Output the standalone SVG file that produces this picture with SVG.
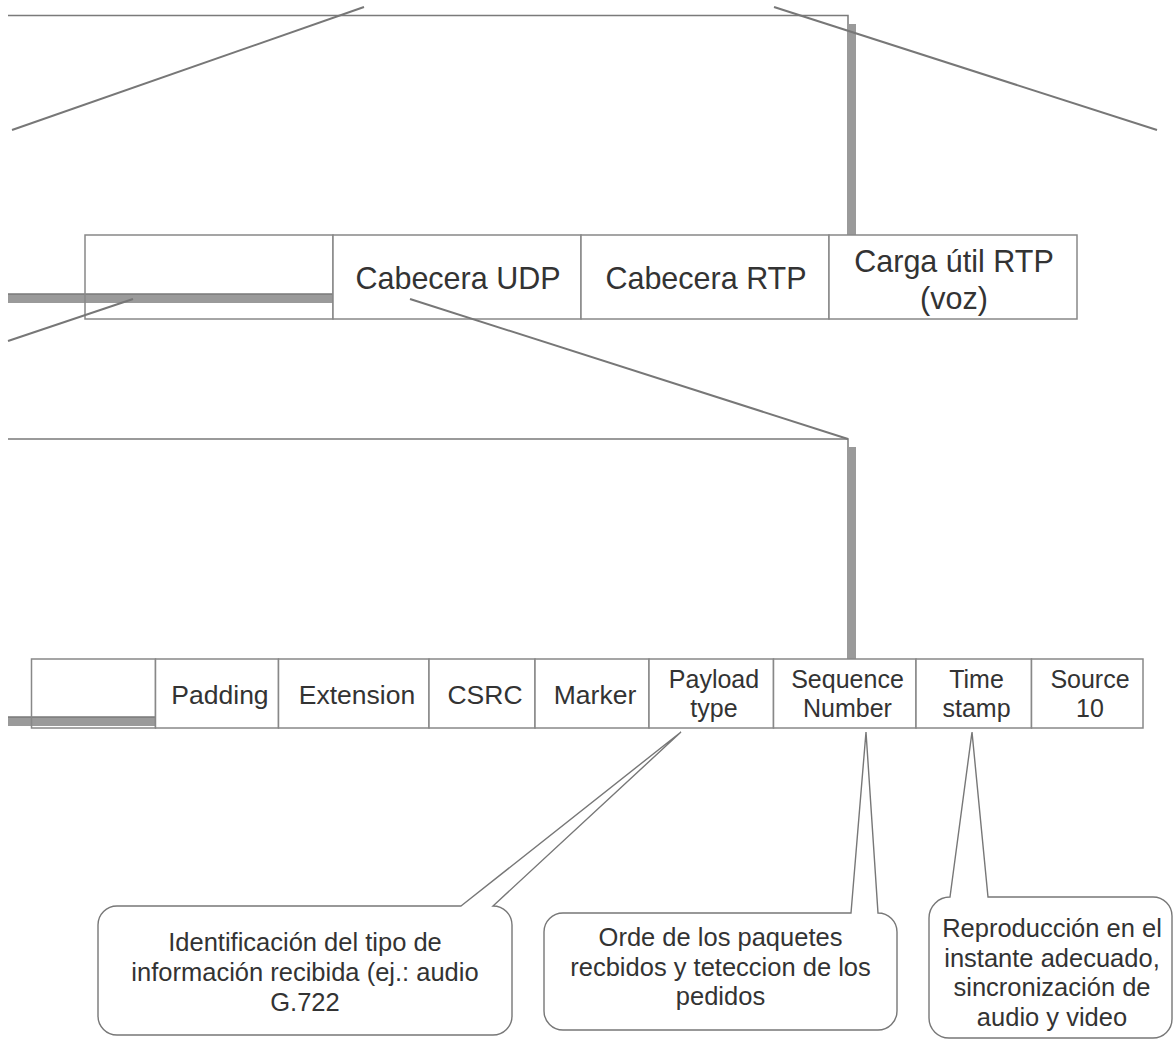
<svg xmlns="http://www.w3.org/2000/svg" width="1174" height="1040" viewBox="0 0 1174 1040">
<style>
.bg{fill:#fff}
.shadow{fill:#9a9a9a}
.frame{fill:none;stroke:#7a7a7a;stroke-width:1.5}
.cell{fill:#fff;stroke:#888;stroke-width:1.5}
.cell0{fill:none;stroke:#888;stroke-width:1.5}
.t{font-family:"Liberation Sans",Arial,sans-serif;fill:#333;text-anchor:middle;dominant-baseline:central}
.lg{font-size:30.5px}
.fd{font-size:26.5px}
.f2{font-size:25px}
.md{font-size:25.5px}
.ln{fill:none;stroke:#777;stroke-width:2}
.bub{fill:#fff;stroke:#777;stroke-width:1.4}
</style>
<rect class="bg" width="1174" height="1040"/>

<g id="frame-top">
  <rect class="shadow" x="849" y="24" width="7" height="279"/>
  <rect class="shadow" x="8" y="294" width="841" height="9"/>
  <path class="frame" d="M8,15.5 H848 V294 H8"/>
</g>

<g id="frame-mid">
  <rect class="shadow" x="849" y="447" width="7" height="279"/>
  <rect class="shadow" x="8" y="717" width="841" height="9"/>
  <path class="frame" d="M8,439 H848 V717 H8"/>
</g>

<g id="packet">
  <g id="pk-empty"><rect class="cell0" x="85" y="235" width="248" height="84"/></g>
  <g id="pk-udp"><rect class="cell" x="333" y="235" width="248" height="84"/><text class="t lg" x="458" y="278">Cabecera UDP</text></g>
  <g id="pk-rtp"><rect class="cell" x="581" y="235" width="248" height="84"/><text class="t lg" x="706" y="278">Cabecera RTP</text></g>
  <g id="pk-payload"><rect class="cell" x="829" y="235" width="248" height="84"/><text class="t lg" x="954" y="261">Carga útil RTP</text><text class="t lg" x="954" y="298">(voz)</text></g>
</g>

<g id="fields">
  <g id="f-empty"><rect class="cell0" x="31.5" y="659" width="124" height="69"/></g>
  <g id="f-padding"><rect class="cell" x="155.5" y="659" width="123" height="69"/><text class="t fd" x="220" y="695">Padding</text></g>
  <g id="f-extension"><rect class="cell" x="278.5" y="659" width="150.5" height="69"/><text class="t fd" x="357" y="695">Extension</text></g>
  <g id="f-csrc"><rect class="cell" x="429" y="659" width="106" height="69"/><text class="t fd" x="485" y="695">CSRC</text></g>
  <g id="f-marker"><rect class="cell" x="535" y="659" width="114" height="69"/><text class="t fd" x="595" y="695">Marker</text></g>
  <g id="f-payload"><rect class="cell" x="649" y="659" width="124.5" height="69"/><text class="t f2" x="714" y="679">Payload</text><text class="t f2" x="714" y="708">type</text></g>
  <g id="f-seq"><rect class="cell" x="773.5" y="659" width="142.5" height="69"/><text class="t f2" x="847.5" y="679">Sequence</text><text class="t f2" x="847.5" y="708">Number</text></g>
  <g id="f-time"><rect class="cell" x="916" y="659" width="115.5" height="69"/><text class="t f2" x="976.5" y="679">Time</text><text class="t f2" x="976.5" y="708">stamp</text></g>
  <g id="f-source"><rect class="cell" x="1031.5" y="659" width="111.5" height="69"/><text class="t f2" x="1090" y="679">Source</text><text class="t f2" x="1090" y="708">10</text></g>
</g>

<g id="connectors">
  <line class="ln" x1="364" y1="7" x2="12" y2="130"/>
  <line class="ln" x1="774" y1="7" x2="1157" y2="130"/>
  <line class="ln" x1="133" y1="299" x2="8" y2="341"/>
  <line class="ln" x1="410" y1="299" x2="848" y2="439"/>
</g>

<g id="callout-payload">
  <path class="bub" d="M461,906 L681,732 L493,906 A19,19 0 0 1 512,925 V1016 A19,19 0 0 1 493,1035 H117 A19,19 0 0 1 98,1016 V925 A19,19 0 0 1 117,906 Z"/>
  <text class="t md" x="305" y="942">Identificación del tipo de</text>
  <text class="t md" x="305" y="972">información recibida (ej.: audio</text>
  <text class="t md" x="305" y="1002">G.722</text>
</g>

<g id="callout-seq">
  <path class="bub" d="M851,913 L866,732 L878,913 A19,19 0 0 1 897,932 V1011 A19,19 0 0 1 878,1030 H563 A19,19 0 0 1 544,1011 V932 A19,19 0 0 1 563,913 Z"/>
  <text class="t md" x="720.5" y="937">Orde de los paquetes</text>
  <text class="t md" x="720.5" y="967">recbidos y teteccion de los</text>
  <text class="t md" x="720.5" y="996">pedidos</text>
</g>

<g id="callout-time">
  <path class="bub" d="M950,897 L972,732 L988,897 H1153 A19,19 0 0 1 1172,916 V1019 A19,19 0 0 1 1153,1038 H949 A20,20 0 0 1 929,1018 V918 A21,21 0 0 1 950,897 Z"/>
  <text class="t md" x="1052" y="928">Reproducción en el</text>
  <text class="t md" x="1052" y="958">instante adecuado,</text>
  <text class="t md" x="1052" y="987">sincronización de</text>
  <text class="t md" x="1052" y="1017">audio y video</text>
</g>
</svg>
